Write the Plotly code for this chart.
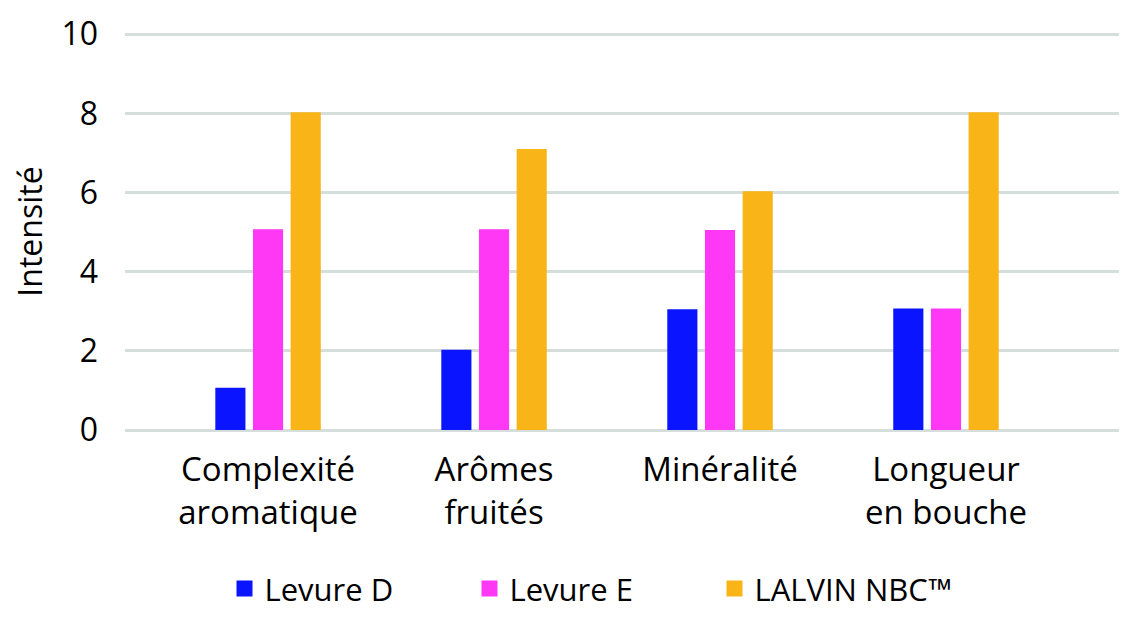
import plotly.graph_objects as go

categories = ["Complexité<br>aromatique", "Arômes<br>fruités", "Minéralité", "Longueur<br>en bouche"]
levure_d = [1.07, 2.03, 3.05, 3.07]
levure_e = [5.07, 5.07, 5.05, 3.07]
lalvin = [8.03, 7.1, 6.03, 8.03]
series_names = ["Levure D", "Levure E", "LALVIN NBC™"]
colors = ["#0a14ff", "#ff38f5", "#f9b418"]
y_ticks = [0, 2, 4, 6, 8, 10]

font_family = "Open Sans, Noto Sans, sans-serif"

fig = go.Figure()
for name, vals, col in zip(series_names, [levure_d, levure_e, lalvin], colors):
    fig.add_trace(go.Bar(x=categories, y=vals, name=name, showlegend=False,
                         marker=dict(color=col, line=dict(width=0))))
# legend-only entries with larger square swatches
for name, col in zip(series_names, colors):
    fig.add_trace(go.Scatter(x=[None], y=[None], mode="markers", name=name,
                             marker=dict(symbol="square", size=19, color=col)))

fig.update_layout(
    width=1127, height=617,
    margin=dict(l=117, r=15, t=25, b=195, autoexpand=False),
    paper_bgcolor="white", plot_bgcolor="white",
    barmode="group", bargap=0.5, bargroupgap=0.2,
    font=dict(family=font_family, color="black", size=30),
    legend=dict(orientation="h", x=0.1, xanchor="left", y=-0.40, yanchor="middle",
                font=dict(size=31), itemsizing="trace", itemwidth=30, tracegroupgap=0,
                entrywidth=200),
    xaxis=dict(range=[-0.633, 3.77], showgrid=False, showline=False, zeroline=False,
               automargin=False,
               tickfont=dict(size=33), ticks="outside", ticklen=10, tickcolor="rgba(0,0,0,0)"),
    yaxis=dict(range=[0, 10.03], tickvals=y_ticks, showgrid=True, gridcolor="#d6dedb", gridwidth=2.5,
               zeroline=True, zerolinecolor="#d6dedb", zerolinewidth=2.5, showline=False,
               automargin=False,
               tickfont=dict(size=32), ticklabelstandoff=26,
               title=dict(text="Intensité", font=dict(size=32), standoff=17)),
)

fig.write_html("out.html")
